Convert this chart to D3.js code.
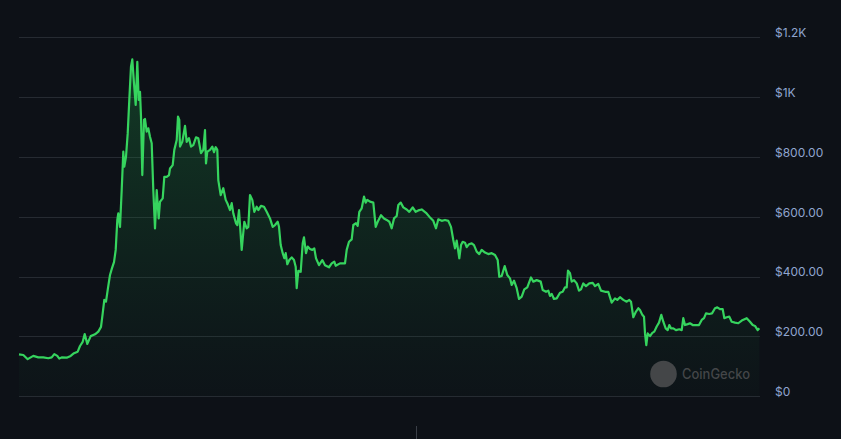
<!DOCTYPE html>
<html>
<head>
<meta charset="utf-8">
<script src="https://cdn.jsdelivr.net/npm/d3@7"></script>
<style>
  html, body { margin: 0; padding: 0; background: #0d1117; }
  svg { display: block; }
</style>
</head>
<body>
<svg id="chart" width="841" height="439"></svg>
<script>
// ---- data (day index, price in USD) ----
const days = [0,4.3,8.7,14.3,19.3,24.3,29.3,32.7,35.3,38.3,40.3,42.7,47.7,51.7,55,58.7,61,63.7,65.7,68.3,71.7,76,79.3,82,83.7,85.3,87,89,91,93,95,96.7,98.3,99.3,101,102.7,104.3,105.3,107,108.7,110.3,112,113.3,115,116.7,118.3,119.7,121,122,123.3,125,126,127.7,129.3,131,132.7,134.3,136,137.7,139.7,141,143.7,145.3,147.7,150,151,153.7,155.3,157.7,159,160.3,161,163.3,166,167.7,170,172,174.3,177,179.3,182,184.3,186,187,188.3,191,193.3,195,196.7,198.3,199.3,201.7,204.3,206.7,208.7,211,212.7,214.3,217,218.3,220,222.7,225.3,227.7,229.3,231,233.3,235.3,237.7,239.3,242,245,247.7,251,253.7,256,258.7,260,261.7,263.7,265.3,266.7,268.3,270.3,272.7,275,276.7,277.7,279.3,281.7,283.7,285,287,288.7,291,293.3,295.3,297,300,303.3,306,310,312.7,315.3,316.7,321,326,327.7,330,332.7,334.3,337,338.7,340.3,342.7,345,346.7,348.3,351,354.3,356.7,358.7,362,365,367.7,370.3,372.7,375,377.7,379.3,381.7,384.3,387.7,390.3,393.7,396.7,400.3,402.7,407,410.3,414.3,417,419.3,422.7,426,429.3,432,434.3,436,437.7,440.3,442,443.7,446,447.7,450,452.7,455,457.7,460.3,462.7,466,469.3,472.7,476,478.7,480.3,482.7,485.7,488.3,491,492.7,495,497.7,500,502.7,505.3,508.3,512,514.3,517.7,521.7,523.7,527,529.3,531,532.7,535,537.7,541,543.7,546,547.7,549,551,552.7,555,557.7,560,562,564.3,567,570.3,573.7,576,579.3,582,586,589.3,592.7,596,598.3,601,604.3,607.7,610.3,612,614.3,617,619.3,621,623.3,625,626,627.3,628.7,631,633.3,635.3,637.7,640,642.3,644.3,646.7,648.7,650.3,652,654.3,657,660.3,662.7,664.3,666,668.7,671,673.7,677,680,682.7,685,687,690.3,693,696,698.3,701,703.7,705.3,707.7,710.3,712.7,716,719.3,722.7,727.7,731,733.7,736,738.7,740.3];
const prices = [140,138,124,135,130,130,127,130,141,135,126,130,129,135,144,149,168,182,208,175,201,207,216,232,277,322,316,362,405,428,448,489,589,611,566,689,817,767,800,878,990,1101,1125,1045,973,1117,990,1017,934,739,923,926,884,895,867,845,689,561,689,594,650,661,733,733,739,761,772,823,856,934,923,834,850,903,850,862,834,839,865,862,812,823,889,778,817,823,834,815,832,823,722,672,695,656,642,622,645,611,578,572,622,489,583,561,566,672,656,616,633,622,636,633,616,594,566,572,583,566,505,478,461,478,441,455,464,455,433,361,419,416,511,531,478,500,492,489,494,461,438,455,438,431,444,450,436,444,444,489,516,524,572,578,569,616,628,667,647,656,650,647,566,583,605,594,589,583,561,594,602,639,647,631,624,616,631,616,622,624,613,600,586,561,591,586,589,586,566,522,494,520,461,505,516,513,498,508,511,505,483,475,489,480,475,478,472,455,399,402,435,405,394,372,386,361,325,333,357,364,397,383,388,383,355,349,353,335,342,325,327,346,349,364,364,420,411,383,388,377,353,357,377,368,377,379,368,375,353,349,349,313,327,322,331,322,316,322,316,264,283,294,288,272,266,210,171,210,201,212,216,233,246,272,249,227,221,238,227,227,221,224,221,261,238,241,244,238,238,238,255,261,277,275,277,294,297,291,291,261,264,266,249,246,244,253,261,249,238,235,221,227];
const yTicks = [0, 200, 400, 600, 800, 1000, 1200];
const yTickLabels = ["$0", "$200.00", "$400.00", "$600.00", "$800.00", "$1K", "$1.2K"];

// ---- layout ----
const svg = d3.select("#chart");
const W = 841, H = 439;
const plotLeft = 19, plotRight = 760, plotTop = 37, plotBottom = 396.3;

const x = d3.scaleLinear().domain([0, 741]).range([plotLeft, plotRight]);
const y = d3.scaleLinear().domain([0, 1200]).range([plotBottom, plotTop]);

svg.append("rect").attr("width", W).attr("height", H).attr("fill", "#0d1117");

const defs = svg.append("defs");
const grad = defs.append("linearGradient")
  .attr("id", "areaGrad")
  .attr("gradientUnits", "userSpaceOnUse")
  .attr("x1", 0).attr("x2", 0).attr("y1", y(1130)).attr("y2", plotBottom);
grad.append("stop").attr("offset", "0%").attr("stop-color", "#1f8f45").attr("stop-opacity", 0.34);
grad.append("stop").attr("offset", "55%").attr("stop-color", "#1a7a3c").attr("stop-opacity", 0.17);
grad.append("stop").attr("offset", "100%").attr("stop-color", "#16663a").attr("stop-opacity", 0.03);

// gridlines
svg.append("g").selectAll("line").data(yTicks).join("line")
  .attr("x1", plotLeft).attr("x2", plotRight)
  .attr("y1", d => Math.round(y(d)) + 0.5).attr("y2", d => Math.round(y(d)) + 0.5)
  .attr("stroke", "#262b32").attr("stroke-width", 1);

// y-axis labels on the right
const axis = d3.axisRight(y).tickValues(yTicks)
  .tickFormat(d => yTickLabels[yTicks.indexOf(d)]).tickSize(0).tickPadding(0);
const gAxis = svg.append("g").attr("transform", "translate(775,0)").call(axis);
gAxis.select(".domain").remove();
gAxis.selectAll("text")
  .attr("fill", "#8fa5cf")
  .attr("font-family", "Inter, Roboto, 'Noto Sans', sans-serif")
  .attr("font-size", 12)
  .attr("dy", "-0.05em")
  .attr("text-anchor", "start");

// area + line
const n = Math.min(days.length, prices.length);
const data = days.slice(0, n).map((d, i) => ({ d, p: prices[i] }));
svg.append("path").datum(data)
  .attr("d", d3.area().x(v => x(v.d)).y0(plotBottom).y1(v => y(v.p)))
  .attr("fill", "url(#areaGrad)");
svg.append("path").datum(data)
  .attr("d", d3.line().x(v => x(v.d)).y(v => y(v.p)))
  .attr("fill", "none").attr("stroke", "#36d45e").attr("stroke-width", 2.2)
  .attr("stroke-linejoin", "round");

// bottom small tick
svg.append("line").attr("x1", 416.5).attr("x2", 416.5).attr("y1", 426).attr("y2", 439)
  .attr("stroke", "#3a3f47").attr("stroke-width", 1);

// watermark
const wm = svg.append("g").attr("opacity", 0.9);
wm.append("circle").attr("cx", 663.5).attr("cy", 374).attr("r", 13.3).attr("fill", "#4a4c4e");
wm.append("text").attr("x", 682).attr("y", 379)
  .attr("fill", "#4a4c4e").attr("font-family", "Inter, Roboto, sans-serif")
  .attr("font-size", 14).attr("font-weight", 500)
  .attr("textLength", 68).attr("lengthAdjust", "spacingAndGlyphs")
  .text("CoinGecko");
</script>
</body>
</html>
